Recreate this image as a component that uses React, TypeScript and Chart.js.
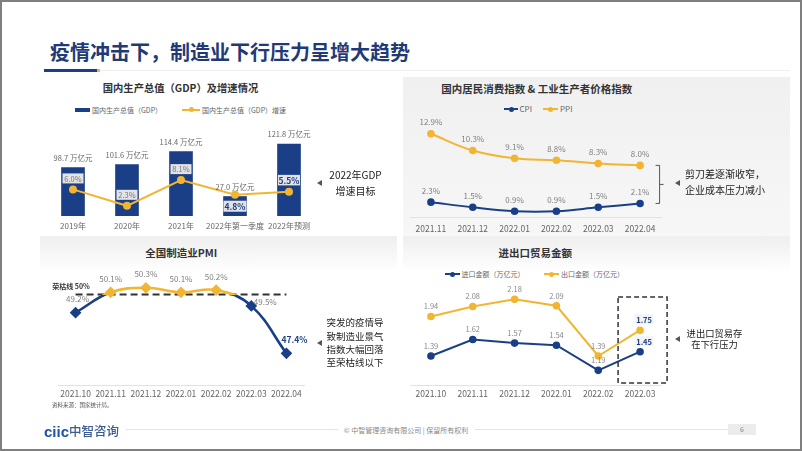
import React, { useEffect, useRef } from 'react';
import { Chart, registerables } from 'chart.js';

Chart.register(...registerables);

const FONT = '"Noto Sans CJK SC", "Noto Sans", sans-serif';
const NAVY = '#1b3f86';
const YELLOW = '#f2b531';
Chart.defaults.font.family = FONT;

// ---------- data ----------
const gdpCategories = ['2019年', '2020年', '2021年', '2022年第一季度', '2022年预测'];
const gdpValues = [98.7, 101.6, 114.4, 27.0, 121.8];
const gdpIsQuarter = [false, false, false, true, false];
const gdpGrowth = [6.0, 2.3, 8.1, 4.8, 5.5];

const priceMonths = ['2021.11', '2021.12', '2022.01', '2022.02', '2022.03', '2022.04'];
const cpiValues = [2.3, 1.5, 0.9, 0.9, 1.5, 2.1];
const ppiValues = [12.9, 10.3, 9.1, 8.8, 8.3, 8.0];

const pmiMonths = ['2021.10', '2021.11', '2021.12', '2022.01', '2022.02', '2022.03', '2022.04'];
const pmiValues = [49.2, 50.1, 50.3, 50.1, 50.2, 49.5, 47.4];
const pmiThreshold = 50;

const tradeMonths = ['2021.10', '2021.11', '2021.12', '2022.01', '2022.02', '2022.03'];
const importValues = [1.39, 1.62, 1.57, 1.54, 1.19, 1.45];
const exportValues = [1.94, 2.08, 2.18, 2.09, 1.39, 1.75];

// ---------- plugins ----------
const valueLabelPlugin = {
  id: 'valueLabels',
  afterDatasetsDraw(chart: any, _args: any, opts: any) {
    const sets = (opts && opts.sets) || [];
    const ctx = chart.ctx;
    ctx.save();
    sets.forEach((set: any) => {
      const meta = chart.getDatasetMeta(set.dataset);
      const data = chart.data.datasets[set.dataset].data;
      meta.data.forEach((el: any, i: number) => {
        const v = data[i];
        if (v === null || v === undefined) return;
        const st = set.style(i);
        const x = el.x + (st.dx || 0);
        const y = el.y + st.dy;
        if (st.box) {
          ctx.fillStyle = st.box.fill;
          ctx.fillRect(x - st.box.w / 2, y - st.box.h / 2, st.box.w, st.box.h);
        }
        ctx.font = st.font;
        ctx.fillStyle = st.color;
        ctx.textAlign = 'center';
        ctx.textBaseline = 'middle';
        ctx.fillText(set.format(v), x, y + 0.5);
      });
    });
    ctx.restore();
  },
};

const bracketPlugin = {
  id: 'bracket',
  afterDatasetsDraw(chart: any) {
    const cpiMeta = chart.getDatasetMeta(0).data;
    const ppiMeta = chart.getDatasetMeta(1).data;
    const top = ppiMeta[ppiMeta.length - 1];
    const bot = cpiMeta[cpiMeta.length - 1];
    const ctx = chart.ctx;
    const x = top.x + 19.5;
    const mid = (top.y + bot.y) / 2;
    ctx.save();
    ctx.strokeStyle = '#555';
    ctx.lineWidth = 1;
    ctx.beginPath();
    ctx.moveTo(x - 4, top.y);
    ctx.lineTo(x, top.y);
    ctx.lineTo(x, bot.y);
    ctx.lineTo(x - 4, bot.y);
    ctx.moveTo(x, mid);
    ctx.lineTo(x + 4, mid);
    ctx.stroke();
    ctx.restore();
  },
};

const dashedBoxPlugin = {
  id: 'dashedBox',
  afterDatasetsDraw(chart: any) {
    const pts = chart.getDatasetMeta(0).data;
    const last = pts[pts.length - 1];
    const area = chart.chartArea;
    const ctx = chart.ctx;
    ctx.save();
    ctx.strokeStyle = '#333';
    ctx.lineWidth = 1.5;
    ctx.setLineDash([5, 3]);
    ctx.strokeRect(last.x - 22, area.top + 7, 49, area.bottom - area.top - 9);
    ctx.restore();
  },
};

// ---------- helpers ----------
const f = (size: number, bold = false) => `${bold ? 'bold ' : ''}${size}px ${FONT}`;
const BOX_FILL = 'rgba(236,236,236,0.95)';

function xAxis(fontSize: number, padding: number, border: boolean) {
  return {
    offset: true,
    grid: { display: false, drawTicks: false },
    border: { display: border, color: '#e2e2e2' },
    ticks: {
      font: { family: FONT, size: fontSize },
      color: '#666',
      padding,
      autoSkip: false,
      maxRotation: 0,
      minRotation: 0,
    },
    afterFit: (s: any) => {
      s.height = 20;
    },
  };
}

function ChartBox({ left, top, width, height, make }: any) {
  const ref = useRef<HTMLCanvasElement>(null);
  useEffect(() => {
    const chart = new Chart(ref.current as HTMLCanvasElement, make());
    return () => chart.destroy();
  }, []);
  return (
    <div style={{ position: 'absolute', left, top, width, height }}>
      <canvas ref={ref} width={width} height={height} style={{ display: 'block', width, height }} />
    </div>
  );
}

function Txt({ x, y, size, color = '#333', weight = 400, align = 'center', lh, children, family = FONT }: any) {
  const tx = align === 'center' ? '-50%' : align === 'right' ? '-100%' : '0';
  return (
    <div
      style={{
        position: 'absolute',
        left: x,
        top: y,
        transform: `translate(${tx}, -50%)`,
        fontSize: size,
        color,
        fontWeight: weight,
        fontFamily: family,
        whiteSpace: 'nowrap',
        lineHeight: lh ? `${lh}px` : 1,
        textAlign: align,
      }}
    >
      {children}
    </div>
  );
}

function Tri({ x, y }: any) {
  return (
    <div
      style={{
        position: 'absolute',
        left: x - 2.5,
        top: y - 3,
        width: 0,
        height: 0,
        borderTop: '3px solid transparent',
        borderBottom: '3px solid transparent',
        borderRight: '5px solid #555',
      }}
    />
  );
}

function LineKey({ x1, x2, y, color }: any) {
  return (
    <>
      <div style={{ position: 'absolute', left: x1, top: y - 1, width: x2 - x1, height: 2, background: color }} />
      <div
        style={{
          position: 'absolute',
          left: (x1 + x2) / 2 - 2.5,
          top: y - 2.5,
          width: 5,
          height: 5,
          borderRadius: '50%',
          background: color,
        }}
      />
    </>
  );
}

// ---------- chart configs ----------
const makeGdp = () => ({
  type: 'bar',
  data: {
    labels: gdpCategories,
    datasets: [
      {
        type: 'line',
        label: '国内生产总值（GDP）增速',
        data: gdpGrowth,
        yAxisID: 'yRate',
        borderColor: YELLOW,
        backgroundColor: YELLOW,
        pointBackgroundColor: YELLOW,
        pointBorderColor: YELLOW,
        borderWidth: 2,
        pointRadius: 3,
        tension: 0,
        order: 0,
      },
      {
        type: 'bar',
        label: '国内生产总值（GDP）',
        data: gdpValues.map((v, i) => (gdpIsQuarter[i] ? null : v)),
        yAxisID: 'yAnnual',
        backgroundColor: NAVY,
        barThickness: 23,
        grouped: false,
        order: 1,
      },
      {
        type: 'bar',
        label: '国内生产总值（GDP）季度',
        data: gdpValues.map((v, i) => (gdpIsQuarter[i] ? v : null)),
        yAxisID: 'yQuarter',
        backgroundColor: NAVY,
        barThickness: 23,
        grouped: false,
        order: 1,
      },
    ],
  },
  options: {
    responsive: false,
    animation: false,
    layout: { padding: { left: 6, right: 24, top: 10, bottom: 0 } },
    plugins: {
      legend: { display: false },
      tooltip: { enabled: false },
      valueLabels: {
        sets: [
          { dataset: 1, format: (v: number) => `${v.toFixed(1)} 万亿元`, style: () => ({ dy: -10, font: f(7.5), color: '#666' }) },
          { dataset: 2, format: (v: number) => `${v.toFixed(1)} 万亿元`, style: () => ({ dy: -10, font: f(7.5), color: '#666' }) },
          {
            dataset: 0,
            format: (v: number) => `${v.toFixed(1)}%`,
            style: (i: number) =>
              i === 3
                ? { dy: 11.5, font: f(8.5, true), color: NAVY, box: { w: 23, h: 11, fill: BOX_FILL } }
                : i === 4
                ? { dy: -11.5, font: f(8.5, true), color: NAVY, box: { w: 22, h: 10.5, fill: BOX_FILL } }
                : { dy: -11, font: f(7.5), color: '#777', box: { w: 21, h: 10, fill: BOX_FILL } },
          },
        ],
      },
    },
    scales: {
      x: xAxis(8, 5, false),
      yAnnual: { display: false, min: 51, max: 135.56 },
      yQuarter: { display: false, min: 0, max: 119.1 },
      yRate: { display: false, min: 0, max: 19.41 },
    },
  },
  plugins: [valueLabelPlugin],
});

const makePrice = () => ({
  type: 'line',
  data: {
    labels: priceMonths,
    datasets: [
      { label: 'CPI', data: cpiValues, borderColor: NAVY, backgroundColor: NAVY, pointBackgroundColor: NAVY, pointBorderColor: NAVY, borderWidth: 2, pointRadius: 2.8, tension: 0.4 },
      { label: 'PPI', data: ppiValues, borderColor: YELLOW, backgroundColor: YELLOW, pointBackgroundColor: YELLOW, pointBorderColor: YELLOW, borderWidth: 2, pointRadius: 2.8, tension: 0.4 },
    ],
  },
  options: {
    responsive: false,
    animation: false,
    layout: { padding: { left: 10, right: 19, top: 10, bottom: 0 } },
    plugins: {
      legend: { display: false },
      tooltip: { enabled: false },
      valueLabels: {
        sets: [
          { dataset: 0, format: (v: number) => `${v.toFixed(1)}%`, style: () => ({ dy: -12, font: f(8), color: '#808080' }) },
          { dataset: 1, format: (v: number) => `${v.toFixed(1)}%`, style: () => ({ dy: -12, font: f(8), color: '#808080' }) },
        ],
      },
    },
    scales: {
      x: xAxis(8.5, 7, true),
      y: { display: false, min: 0, max: 14.26 },
    },
  },
  plugins: [valueLabelPlugin, bracketPlugin],
});

const makePmi = () => ({
  type: 'line',
  data: {
    labels: pmiMonths,
    datasets: [
      {
        label: '荣枯线',
        data: pmiMonths.map(() => pmiThreshold),
        borderColor: '#333',
        borderDash: [7, 4],
        borderWidth: 2,
        pointRadius: 0,
        tension: 0,
        order: 2,
      },
      {
        label: 'PMI',
        data: pmiValues,
        borderColor: (c: any) => {
          const chart = c.chart;
          const area = chart.chartArea;
          if (!area) return NAVY;
          const y50 = chart.scales.y.getPixelForValue(pmiThreshold);
          const g = chart.ctx.createLinearGradient(0, area.top, 0, area.bottom);
          const fr = Math.min(1, Math.max(0, (y50 - area.top) / (area.bottom - area.top)));
          g.addColorStop(0, YELLOW);
          g.addColorStop(fr, YELLOW);
          g.addColorStop(fr, NAVY);
          g.addColorStop(1, NAVY);
          return g;
        },
        pointBackgroundColor: (c: any) => (c.raw >= pmiThreshold ? YELLOW : NAVY),
        pointBorderColor: (c: any) => (c.raw >= pmiThreshold ? YELLOW : NAVY),
        pointStyle: 'rectRot',
        pointRadius: 4,
        borderWidth: 2.6,
        tension: 0.4,
        order: 1,
      },
    ],
  },
  options: {
    responsive: false,
    animation: false,
    layout: { padding: { left: 18, right: 26, top: 10, bottom: 0 } },
    plugins: {
      legend: { display: false },
      tooltip: { enabled: false },
      valueLabels: {
        sets: [
          {
            dataset: 1,
            format: (v: number) => `${v.toFixed(1)}%`,
            style: (i: number) =>
              i === 6
                ? { dx: 8, dy: -14, font: f(8.5, true), color: NAVY }
                : i === 5
                ? { dx: 14, dy: -4, font: f(8), color: '#808080' }
                : { dx: i === 0 ? 2 : 0, dy: -14, font: f(8), color: '#808080' },
          },
        ],
      },
    },
    scales: {
      x: xAxis(8.5, 4, true),
      y: { display: false, min: 46, max: 50.867 },
    },
  },
  plugins: [valueLabelPlugin],
});

const makeTrade = () => ({
  type: 'line',
  data: {
    labels: tradeMonths,
    datasets: [
      { label: '进口金额（万亿元）', data: importValues, borderColor: NAVY, backgroundColor: NAVY, pointBackgroundColor: NAVY, pointBorderColor: NAVY, borderWidth: 2, pointRadius: 2.8, tension: 0 },
      { label: '出口金额（万亿元）', data: exportValues, borderColor: YELLOW, backgroundColor: YELLOW, pointBackgroundColor: YELLOW, pointBorderColor: YELLOW, borderWidth: 2, pointRadius: 2.8, tension: 0 },
    ],
  },
  options: {
    responsive: false,
    animation: false,
    layout: { padding: { left: 10, right: 19, top: 10, bottom: 0 } },
    plugins: {
      legend: { display: false },
      tooltip: { enabled: false },
      valueLabels: {
        sets: [
          {
            dataset: 0,
            format: (v: number) => v.toFixed(2),
            style: (i: number) =>
              i === 5
                ? { dx: 4, dy: -10.5, font: f(7.5, true), color: NAVY, box: { w: 19, h: 10, fill: 'rgba(240,242,246,0.95)' } }
                : { dy: -10.5, font: f(7.5), color: '#888' },
          },
          {
            dataset: 1,
            format: (v: number) => v.toFixed(2),
            style: (i: number) =>
              i === 5
                ? { dx: 4, dy: -11, font: f(7.5, true), color: NAVY, box: { w: 19, h: 10, fill: 'rgba(240,242,246,0.95)' } }
                : { dy: -10.5, font: f(7.5), color: '#888' },
          },
        ],
      },
    },
    scales: {
      x: xAxis(8.5, 4, true),
      y: { display: false, min: 0.986, max: 2.31 },
    },
  },
  plugins: [valueLabelPlugin, dashedBoxPlugin],
});

export default function App() {
  return (
    <div
      style={{
        position: 'absolute',
        left: 0,
        top: 0,
        width: 802,
        height: 451,
        background: '#fff',
        overflow: 'hidden',
        fontFamily: FONT,
      }}
    >
      {/* panels */}
      <div style={{ position: 'absolute', left: 403, top: 77, width: 387, height: 166, background: 'linear-gradient(180deg, #f0f0f0 0%, #f7f7f7 100%)' }} />
      <div style={{ position: 'absolute', left: 40, top: 236, width: 357, height: 165, background: 'linear-gradient(180deg, #efefef 0%, #ffffff 22%)' }} />
      <div style={{ position: 'absolute', left: 403, top: 236, width: 387, height: 165, background: 'linear-gradient(180deg, #efefef 0%, #ffffff 22%)' }} />

      {/* main title */}
      <Txt x={50} y={52} size={20} weight={700} color="#1f3a77" align="left">
        疫情冲击下，制造业下行压力呈增大趋势
      </Txt>
      <div style={{ position: 'absolute', left: 100, top: 70, width: 690, height: 1, background: '#efefef' }} />
      <div style={{ position: 'absolute', left: 44, top: 69, width: 53, height: 2.5, background: NAVY }} />
      <div style={{ position: 'absolute', left: 97, top: 69, width: 3, height: 3, background: YELLOW }} />

      {/* chart titles */}
      <Txt x={180.5} y={88} size={10.3} weight={700} color="#333">国内生产总值（GDP）及增速情况</Txt>
      <Txt x={536.7} y={89} size={10.5} weight={700} color="#333">国内居民消费指数 &amp; 工业生产者价格指数</Txt>
      <Txt x={181.3} y={253.3} size={10.5} weight={700} color="#333">全国制造业PMI</Txt>
      <Txt x={535.3} y={253.3} size={10.5} weight={700} color="#333">进出口贸易金额</Txt>

      {/* legends */}
      <div style={{ position: 'absolute', left: 75, top: 108, width: 15, height: 3.5, background: NAVY }} />
      <Txt x={92} y={109.7} size={7} color="#666" align="left">国内生产总值（GDP）</Txt>
      <LineKey x1={182} x2={200} y={109.7} color={YELLOW} />
      <Txt x={202} y={109.7} size={7} color="#666" align="left">国内生产总值（GDP）增速</Txt>

      <LineKey x1={504} x2={518} y={109} color={NAVY} />
      <Txt x={519.5} y={109} size={8} color="#666" align="left">CPI</Txt>
      <LineKey x1={543} x2={558} y={109} color={YELLOW} />
      <Txt x={560} y={109} size={8} color="#666" align="left">PPI</Txt>

      <LineKey x1={445} x2={460} y={274.3} color={NAVY} />
      <Txt x={461.5} y={274.3} size={7} color="#666" align="left">进口金额（万亿元）</Txt>
      <LineKey x1={544} x2={559} y={274.3} color={YELLOW} />
      <Txt x={561} y={274.3} size={7} color="#666" align="left">出口金额（万亿元）</Txt>

      {/* charts */}
      <ChartBox left={40} top={120} width={300} height={116} make={makeGdp} />
      <ChartBox left={400} top={115} width={280} height={122} make={makePrice} />
      <ChartBox left={40} top={265} width={290} height={140} make={makePmi} />
      <ChartBox left={400} top={280} width={280} height={125} make={makeTrade} />

      <Txt x={71} y={286} size={7} weight={700} color="#333">荣枯线 50%</Txt>

      {/* callouts */}
      <Tri x={319.7} y={183} />
      <Txt x={355.5} y={183} size={10} color="#222" lh={16}>
        2022年GDP<br />增速目标
      </Txt>
      <Tri x={677.3} y={183} />
      <Txt x={685} y={182} size={10} color="#222" lh={16} align="left">
        剪刀差逐渐收窄，<br />企业成本压力减小
      </Txt>
      <Tri x={319.8} y={343} />
      <Txt x={355} y={343.3} size={9.5} color="#222" lh={13.3}>
        突发的疫情导<br />致制造业景气<br />指数大幅回落<br />至荣枯线以下
      </Txt>
      <Tri x={677.3} y={339} />
      <Txt x={714.5} y={338.8} size={9.3} color="#222" lh={11}>
        进出口贸易存<br />在下行压力
      </Txt>

      {/* source note */}
      <Txt x={52} y={405.7} size={5.5} color="#555" align="left">资料来源：国家统计局。</Txt>

      {/* footer */}
      <Txt x={44} y={431} size={15} weight={700} color="#1f56a8" align="left" family='"Liberation Sans", Arial, sans-serif'>ciic</Txt>
      <Txt x={69} y={431} size={12.5} weight={500} color="#3b5b92" align="left">中智咨询</Txt>
      <div style={{ position: 'absolute', left: 126, top: 429, width: 212, height: 1, background: '#e3e3e3' }} />
      <div style={{ position: 'absolute', left: 475, top: 429, width: 253, height: 1, background: '#e3e3e3' }} />
      <Txt x={406} y={430} size={7} color="#888">© 中智管理咨询有限公司 | 保留所有权利</Txt>
      <div style={{ position: 'absolute', left: 728, top: 423.5, width: 28, height: 11, background: '#ececec' }} />
      <Txt x={742} y={429} size={7} color="#888">6</Txt>

      {/* frame */}
      <div style={{ position: 'absolute', left: 0, top: 0, width: 802, height: 451, boxSizing: 'border-box', border: '2px solid #7f7f7f', pointerEvents: 'none' }} />
    </div>
  );
}
